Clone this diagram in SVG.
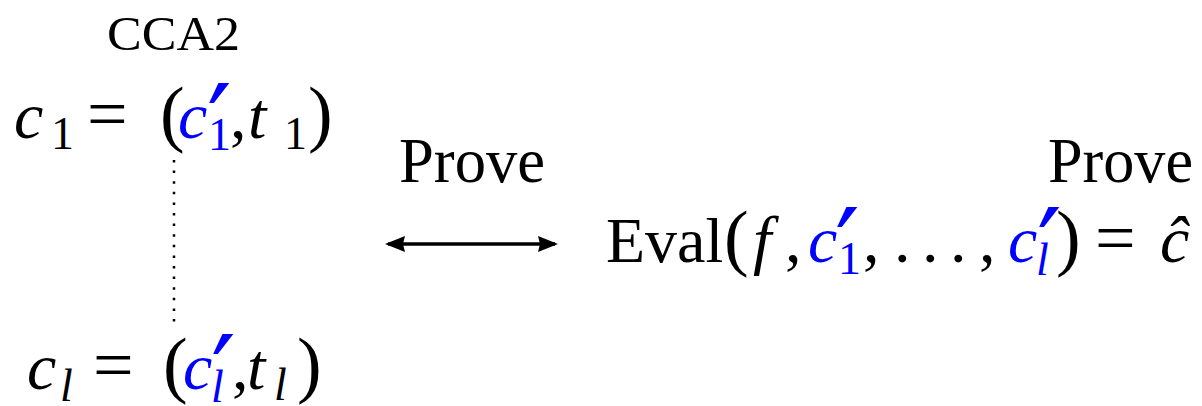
<svg xmlns="http://www.w3.org/2000/svg" width="1202" height="406" viewBox="0 0 1202 406">
<style>
text { font-family: "Liberation Serif", "DejaVu Serif", serif; fill: #000; }
.rm { font-size: 64px; }
.m { font-size: 66px; font-style: italic; }
.up { font-style: normal; }
.sub { font-size: 46px; }
.par { font-size: 74px; font-style: normal; }
.eq { font-size: 72px; font-style: normal; }
.b { fill: #0000ff; }
.pr { font-family: "DejaVu Sans", sans-serif; font-size: 110px; font-style: normal; }
.dots { fill: none; stroke: #000; stroke-width: 2.5; stroke-dasharray: 2.5 8.1; }
.conn { fill: none; stroke: #000; stroke-width: 3.5; }
</style>
<defs>
<marker id="ah" viewBox="0 0 20 16" refX="17" refY="8" markerWidth="20" markerHeight="16" markerUnits="userSpaceOnUse" orient="auto-start-reverse">
<path d="M0,0 L20,8 L0,16 L2,8 z" fill="#000"/>
</marker>
</defs>

<g id="cca2-label">
<text x="107" y="50" font-size="48" textLength="133" lengthAdjust="spacingAndGlyphs">CCA2</text>
</g>

<g id="c1">
<text class="m" y="138"><tspan x="14">c</tspan><tspan class="sub up" x="51" y="149">1</tspan><tspan class="eq" x="87" y="138">=</tspan><tspan class="par" x="160">(</tspan><tspan class="b" x="178">c</tspan><tspan class="b pr" x="207" y="164">′</tspan><tspan class="b sub up" x="208" y="150">1</tspan><tspan class="up" x="230" y="138">,</tspan><tspan x="248">t</tspan><tspan class="sub up" x="284" y="149">1</tspan><tspan class="par" x="308" y="138">)</tspan></text>
</g>

<g id="cl">
<text class="m" y="389"><tspan x="27">c</tspan><tspan class="sub" x="60" y="401">l</tspan><tspan class="eq" x="93" y="389">=</tspan><tspan class="par" x="163">(</tspan><tspan class="b" x="183">c</tspan><tspan class="b pr" x="211" y="415">′</tspan><tspan class="b sub" x="211" y="402">l</tspan><tspan class="up" x="232" y="389">,</tspan><tspan x="247">t</tspan><tspan class="sub" x="274" y="400">l</tspan><tspan class="par" x="297" y="389">)</tspan></text>
</g>

<g id="prove-left">
<text class="rm" x="399" y="182" textLength="146" lengthAdjust="spacingAndGlyphs">Prove</text>
</g>

<g id="prove-right">
<text class="rm" x="1048" y="182" textLength="145" lengthAdjust="spacingAndGlyphs">Prove</text>
</g>

<g id="eval">
<text class="m" y="262"><tspan class="up" x="606" font-size="64">Eval</tspan><tspan class="par" x="724">(</tspan><tspan x="753">f</tspan><tspan class="up" x="785">,</tspan><tspan class="b" x="808">c</tspan><tspan class="b pr" x="835" y="288">′</tspan><tspan class="b sub up" x="838" y="274">1</tspan><tspan class="up" x="863" y="262">,</tspan><tspan class="up" x="894">.</tspan><tspan class="up" x="922">.</tspan><tspan class="up" x="950">.</tspan><tspan class="up" x="979">,</tspan><tspan class="b" x="1008">c</tspan><tspan class="b pr" x="1037" y="288">′</tspan><tspan class="b sub" x="1036" y="275">l</tspan><tspan class="par" x="1056" y="262">)</tspan><tspan class="eq" x="1095">=</tspan><tspan x="1160">ĉ</tspan></text>
</g>

<g id="connectors">
<line class="dots" x1="174" y1="160" x2="174" y2="322"/>
<line class="conn" x1="388" y1="244" x2="555" y2="244" marker-start="url(#ah)" marker-end="url(#ah)"/>
</g>
</svg>
